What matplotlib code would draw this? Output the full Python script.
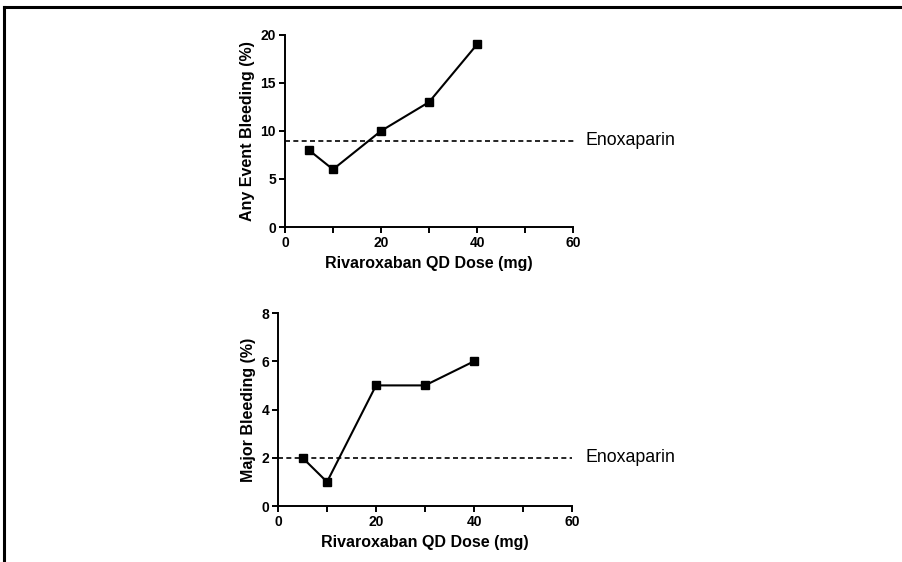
import matplotlib
matplotlib.use("Agg")
import matplotlib.pyplot as plt
from matplotlib.lines import Line2D
from matplotlib.ticker import MultipleLocator

plt.rcParams['font.family'] = ['Liberation Sans', 'DejaVu Sans']

# dose groups and bleeding rates
doses = [5, 10, 20, 30, 40]
any_bleeding = [8, 6, 10, 13, 19]
major_bleeding = [2, 1, 5, 5, 6]
enox_any = 9
enox_major = 2

X_LABEL = "Rivaroxaban QD Dose (mg)"
LABEL_SIZE = 11.5
TICK_SIZE = 10
NOTE_SIZE = 12.8


def style_axes(ax, ymax, ystep):
    for side in ("top", "right"):
        ax.spines[side].set_visible(False)
    for side in ("left", "bottom"):
        ax.spines[side].set_linewidth(1.4)
    ax.set_xlim(0, 60)
    ax.set_ylim(0, ymax)
    ax.xaxis.set_major_locator(MultipleLocator(20))
    ax.xaxis.set_minor_locator(MultipleLocator(10))
    ax.yaxis.set_major_locator(MultipleLocator(ystep))
    ax.tick_params(which="both", direction="out", width=1.4, labelsize=TICK_SIZE)
    ax.tick_params(which="major", length=4.5, pad=2)
    ax.tick_params(which="minor", length=4.5)
    for lab in ax.get_xticklabels() + ax.get_yticklabels():
        lab.set_fontweight("bold")
    ax.set_xlabel(X_LABEL, fontsize=LABEL_SIZE, fontweight="bold", labelpad=4)


fig = plt.figure(figsize=(9.03, 5.62), dpi=100)

ax1 = fig.add_axes([0.3156, 0.596, 0.319, 0.342])
ax1.plot(doses, any_bleeding, color="black", lw=1.5, marker="s", ms=6.3)
ax1.plot([0, 60.4], [enox_any, enox_any], color="black", lw=1.2,
         ls=(0, (3, 2)), clip_on=False)
ax1.text(62.5, enox_any, "Enoxaparin", fontsize=NOTE_SIZE, va="center", ha="left")
style_axes(ax1, 20, 5)
ax1.set_ylabel("Any Event Bleeding (%)", fontsize=LABEL_SIZE, fontweight="bold", labelpad=4)

ax2 = fig.add_axes([0.3079, 0.0996, 0.3256, 0.3434])
ax2.plot(doses, major_bleeding, color="black", lw=1.5, marker="s", ms=6.3)
ax2.plot([0, 60], [enox_major, enox_major], color="black", lw=1.2,
         ls=(0, (3, 2)), clip_on=False)
ax2.text(62.8, enox_major, "Enoxaparin", fontsize=NOTE_SIZE, va="center", ha="left")
style_axes(ax2, 8, 2)
ax2.set_ylabel("Major Bleeding (%)", fontsize=LABEL_SIZE, fontweight="bold", labelpad=4)

# frame lines along top and left edge of the figure
fig.add_artist(Line2D([0.004, 1.0], [0.987, 0.987], color="black", lw=2.2))
fig.add_artist(Line2D([0.004, 0.004], [0.0, 0.987], color="black", lw=2.2))

fig.savefig("out.png", dpi=100)
